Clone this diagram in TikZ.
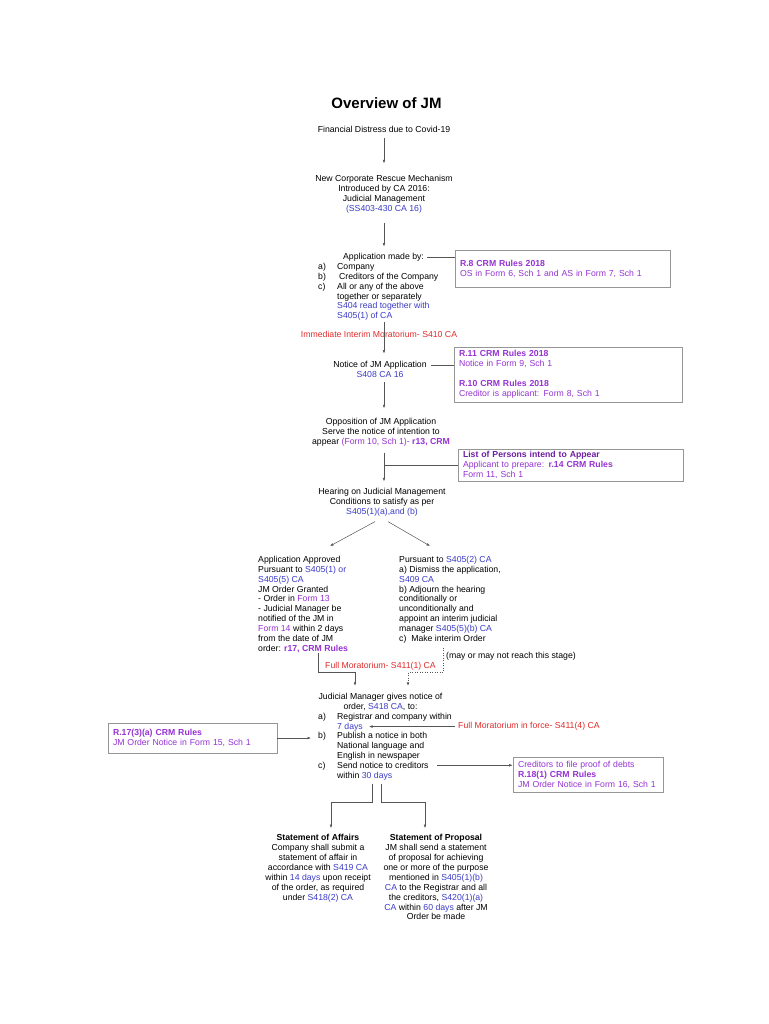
\documentclass[tikz,border=0pt]{standalone}
\usepackage{fontspec}
\setmainfont{Liberation Sans}
\usetikzlibrary{arrows.meta}

\definecolor{secblue}{RGB}{60,60,200}
\definecolor{rulepurple}{RGB}{150,50,210}
\definecolor{listpurple}{RGB}{110,30,160}
\definecolor{morred}{RGB}{225,45,45}
\definecolor{linegray}{RGB}{85,85,85}
\definecolor{boxgray}{RGB}{150,150,150}

\begin{document}
\begin{tikzpicture}[x=1pt,y=-1pt,
  txt/.style={font=\fontsize{8.7}{9.9}\selectfont, inner sep=0pt, align=center},
  itemlist/.style={font=\fontsize{8.7}{9.9}\selectfont, inner sep=0pt},
  rulebox/.style={draw=boxgray, line width=0.6pt, font=\fontsize{8.7}{9.9}\selectfont, text=rulepurple, align=left, inner xsep=5pt, inner ysep=0pt},
  link/.style={draw=linegray, line width=0.5pt},
  arr/.style={link, -{Latex[length=3.5pt,width=2.6pt]}}]
\path[use as bounding box, fill=white] (0,0) rectangle (768,1024);
\coordinate (spine) at (384,0);

% title and start
\node[font=\fontsize{15}{18}\selectfont\bfseries, inner sep=0pt, anchor=base] (title) at (386.5,108.4) {Overview of JM};
\node[txt, anchor=base] (distress) at (384,132.1) {Financial Distress due to Covid-19};
\node[txt, anchor=north] (rescue) at (384,175.4) {New Corporate Rescue Mechanism\\Introduced by CA 2016:\\Judicial Management\\\textcolor{secblue}{(SS403-430 CA 16)}};

% application
\node[txt, anchor=base] (applhead) at (383.5,259.1) {Application made by:};
\node[itemlist, anchor=north west] (appllist) at (318,262.2) {\begin{tabular}{@{}p{19pt}@{}l@{}}
a) & Company\\
b) & \hspace{2pt}Creditors of the Company\\
c) & All or any of the above\\
 & together or separately\\
 & \textcolor{secblue}{S404 read together with}\\
 & \textcolor{secblue}{S405(1) of CA}
\end{tabular}};
\node[rulebox, text width=205pt, minimum height=37pt] (r8) at (562.5,268.5) {\textbf{R.8 CRM Rules 2018}\\OS in Form 6, Sch 1 and AS in Form 7, Sch 1};
\node[txt, text=morred, anchor=base] (mor1) at (379,337.1) {Immediate Interim Moratorium- S410 CA};

% notice
\node[txt, anchor=base] (notice) at (380,367.1) {Notice of JM Application};
\node[txt, anchor=base, text=secblue] (noticeref) at ([yshift=-9.9pt]notice.base) {S408 CA 16};
\node[rulebox, text width=218pt, minimum height=55pt] (r11) at (568,374.5) {\textbf{R.11 CRM Rules 2018}\\Notice in Form 9, Sch 1\\[9.9pt]\textbf{R.10 CRM Rules 2018}\\Creditor is applicant: Form 8, Sch 1};

% opposition
\node[txt, anchor=north] (opp) at (381,418.3) {Opposition of JM Application\\Serve the notice of intention to\\appear \textcolor{rulepurple}{(Form 10, Sch 1)- \textbf{r13, CRM}}};
\node[rulebox, text width=215pt, minimum height=32pt] (lst) at (570.5,465) {\textcolor{listpurple}{\textbf{List of Persons intend to Appear}}\\Applicant to prepare: \textbf{r.14 CRM Rules}\\Form 11, Sch 1};

% hearing
\node[txt, anchor=north] (hear) at (382,488.3) {Hearing on Judicial Management\\Conditions to satisfy as per\\\textcolor{secblue}{S405(1)(a),and (b)}};
\coordinate (tipL) at (330,546);
\coordinate (tipR) at (430,546);

% outcomes
\node[txt, align=left, anchor=north west] (appr) at (258,555.8) {Application Approved\\Pursuant to \textcolor{secblue}{S405(1) or}\\\textcolor{secblue}{S405(5) CA}\\JM Order Granted\\- Order in \textcolor{rulepurple}{Form 13}\\- Judicial Manager be\\notified of the JM in\\\textcolor{rulepurple}{Form 14} within 2 days\\from the date of JM\\order: \textcolor{rulepurple}{\textbf{r17, CRM Rules}}};
\node[txt, align=left, anchor=north west] (dism) at (399,555.8) {Pursuant to \textcolor{secblue}{S405(2) CA}\\a) Dismiss the application,\\\textcolor{secblue}{S409 CA}\\b) Adjourn the hearing\\conditionally or\\unconditionally and\\appoint an interim judicial\\manager \textcolor{secblue}{S405(5)(b) CA}\\c)\ \ Make interim Order};
\node[txt, anchor=base west] (maynote) at (446,658.1) {(may or may not reach this stage)};
\node[txt, text=morred, anchor=base] (fm1) at (380.5,668.1) {Full Moratorium- S411(1) CA};
\coordinate (fmL) at (318,672);
\coordinate (fmR) at (443,672);

% notice of order
\node[txt, anchor=north] (jm) at (380.5,692.8) {Judicial Manager gives notice of\\order, \textcolor{secblue}{S418 CA}, to:};
\node[itemlist, anchor=north west] (jmlist) at (318,712) {\begin{tabular}{@{}p{19pt}@{}l@{}}
a) & Registrar and company within\\
 & \textcolor{secblue}{7 days}\\
b) & Publish a notice in both\\
 & National language and\\
 & English in newspaper\\
c) & Send notice to creditors\\
 & within \textcolor{secblue}{30 days}
\end{tabular}};
\node[txt, text=morred, anchor=base west] (force) at (458,728.8) {Full Moratorium in force- S411(4) CA};
\coordinate (sevendays) at (369,726);
\node[rulebox, text width=159pt, minimum height=30pt] (r17) at (192.5,738) {\textbf{R.17(3)(a) CRM Rules}\\JM Order Notice in Form 15, Sch 1};
\coordinate (itemb) at (311,738);
\node[rulebox, text width=140pt, minimum height=35pt] (r18) at (588,774.5) {Creditors to file proof of debts\\\textbf{R.18(1) CRM Rules}\\JM Order Notice in Form 16, Sch 1};
\coordinate (credend) at (437,765.3);

% statements
\node[txt, anchor=north] (soa) at (318,834.2) {\textbf{Statement of Affairs}\\Company shall submit a\\statement of affair in\\accordance with \textcolor{secblue}{S419 CA}\\within \textcolor{secblue}{14 days} upon receipt\\of the order, as required\\under \textcolor{secblue}{S418(2) CA}};
\node[txt, anchor=north] (sop) at (436,834.2) {\textbf{Statement of Proposal}\\JM shall send a statement\\of proposal for achieving\\one or more of the purpose\\mentioned in \textcolor{secblue}{S405(1)(b)}\\\textcolor{secblue}{CA} to the Registrar and all\\the creditors, \textcolor{secblue}{S420(1)(a)}\\\textcolor{secblue}{CA} within \textcolor{secblue}{60 days} after JM\\Order be made};
\coordinate (splitL) at (372,802);
\coordinate (splitR) at (381,802);

% connectors
\draw[arr, shorten <=6pt, shorten >=12pt] (distress.south -| spine) -- (rescue.north -| spine);
\draw[arr, shorten <=9pt, shorten >=6pt] (rescue.south -| spine) -- (applhead.north -| spine);
\draw[link, shorten <=3pt] (applhead.east) -- (applhead.east -| r8.west);
\draw[arr, shorten >=7pt] (appllist.south -| spine) -- (notice.north -| spine);
\draw[link, shorten <=4pt] (notice.east) -- (notice.east -| r11.west);
\draw[arr, shorten <=5pt, shorten >=10pt] (noticeref.south -| spine) -- (opp.north -| spine);
\draw[arr, shorten <=6pt, shorten >=7pt] (opp.south -| spine) -- (hear.north -| spine);
\draw[link] (lst.west) -- (lst.west -| spine);
\draw[arr] ([xshift=-7pt,yshift=-5pt]hear.south) -- (tipL);
\draw[arr] ([xshift=6pt,yshift=-5pt]hear.south) -- (tipR);
\draw[arr, shorten >=7pt] (appr.south -| fmL) -- (fmL) -| ([xshift=-25.5pt]jm.north);
\draw[arr, dotted, shorten <=4pt, shorten >=7pt] (dism.south -| fmR) -- (fmR) -| ([xshift=27.5pt]jm.north);
\draw[arr, shorten <=3pt] (force.west) -- (force.west -| sevendays);
\draw[arr] (r17.east) -- (r17.east -| itemb);
\draw[arr] (credend) -- (credend -| r18.west);
\draw[arr, shorten <=2pt, shorten >=6pt] (jmlist.south -| splitL) -- (splitL) -| ([xshift=13pt]soa.north);
\draw[arr, shorten <=2pt, shorten >=6pt] (jmlist.south -| splitR) -- (splitR) -| ([xshift=-11pt]sop.north);
\end{tikzpicture}
\end{document}
